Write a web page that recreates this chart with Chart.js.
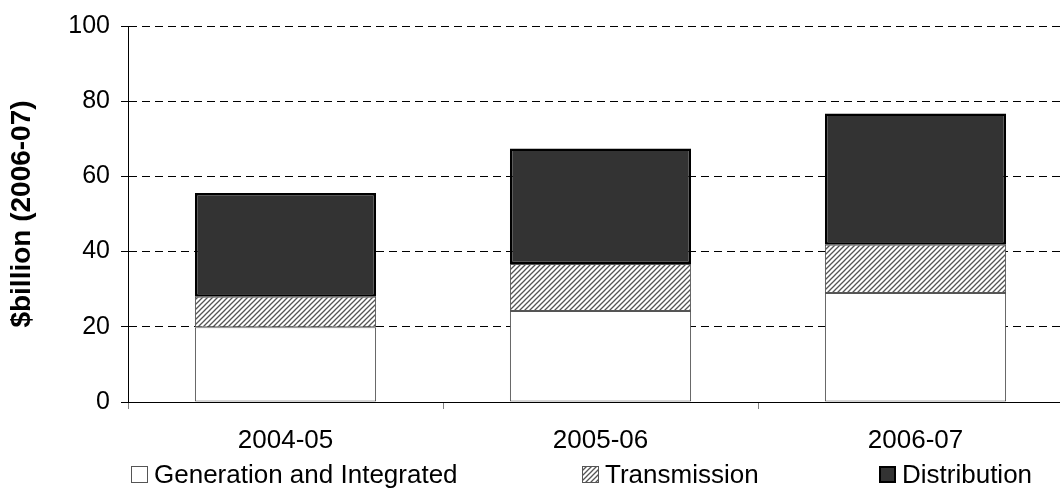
<!DOCTYPE html>
<html>
<head>
<meta charset="utf-8">
<script src="https://cdn.jsdelivr.net/npm/chart.js@4/dist/chart.umd.min.js"></script>
<style>
  html, body { margin: 0; padding: 0; background: #fff; overflow: hidden; }
  #wrap { position: relative; width: 1060px; height: 489px; overflow: hidden; }
  #chart { position: absolute; left: 0; top: 0; }
  .legend-item {
    position: absolute; top: 461px; display: flex; align-items: center;
    font: 26px "Liberation Sans", Arial, sans-serif; color: #000;
    white-space: nowrap; line-height: 26px;
  }
  .legend-item canvas { margin-right: 6px; display: block; }
</style>
</head>
<body>
<div id="wrap">
  <canvas id="chart" width="1073" height="489"></canvas>
  <div id="legend"></div>
</div>
<script>
// Capital expenditure by network segment, $billion (2006-07)
const categories = ['2004-05', '2005-06', '2006-07'];
const generation = [19.9, 24.2, 29.0];
const transmission = [8.1, 12.5, 12.8];
const distribution = [27.6, 30.7, 34.9];
const seriesNames = ['Generation and Integrated', 'Transmission', 'Distribution'];
const yTicks = [0, 20, 40, 60, 80, 100];
const yTitle = '$billion (2006-07)';

const FONT = '"Liberation Sans", Arial, sans-serif';

// Diagonal hatch used for the transmission segment
function makeHatch() {
  const n = 5;
  const c = document.createElement('canvas');
  c.width = n; c.height = n;
  const g = c.getContext('2d');
  g.fillStyle = '#fff';
  g.fillRect(0, 0, n, n);
  g.strokeStyle = '#555';
  g.lineWidth = 1.3;
  g.beginPath();
  g.moveTo(-1, n + 1); g.lineTo(n + 1, -1);
  g.moveTo(-1, 1); g.lineTo(1, -1);
  g.moveTo(n - 1, n + 1); g.lineTo(n + 1, n - 1);
  g.stroke();
  return c;
}
const hatchCanvas = makeHatch();
const ctx = document.getElementById('chart').getContext('2d');
const hatch = ctx.createPattern(hatchCanvas, 'repeat');

const styles = [
  { backgroundColor: '#ffffff', borderColor: '#555555', borderWidth: 1 },
  { backgroundColor: hatch, borderColor: '#555555', borderWidth: 1 },
  { backgroundColor: '#333333', borderColor: '#000000', borderWidth: 2.5 }
];
const seriesData = [generation, transmission, distribution];

const datasets = seriesNames.map((name, i) => Object.assign({
  label: name,
  data: seriesData[i],
  borderSkipped: false,
  barPercentage: 0.575,
  categoryPercentage: 1.0
}, styles[i]));

new Chart(ctx, {
  type: 'bar',
  data: { labels: categories, datasets },
  options: {
    responsive: false,
    animation: false,
    devicePixelRatio: 1,
    layout: { padding: { top: 24, left: 0, right: 0, bottom: 37 } },
    plugins: { legend: { display: false }, tooltip: { enabled: false } },
    scales: {
      x: {
        stacked: true,
        grid: { display: true, drawOnChartArea: false, drawTicks: true, tickLength: 7, tickColor: '#808080', offset: true },
        border: { display: true, color: '#000', width: 1 },
        ticks: { color: '#000', font: { family: FONT, size: 26 }, padding: 16, maxRotation: 0 },
        afterFit: s => { s.height = 50; }
      },
      y: {
        stacked: true,
        min: 0,
        max: 100,
        afterBuildTicks: s => { s.ticks = yTicks.map(v => ({ value: v })); },
        grid: { color: '#000', lineWidth: 1, tickLength: 7, tickColor: '#000', tickBorderDash: [] },
        border: { display: true, color: '#000', width: 1, dash: [8, 5] },
        ticks: { color: '#000', font: { family: FONT, size: 25 }, padding: 11 },
        title: { display: true, text: yTitle, color: '#000', font: { family: FONT, size: 28, weight: 'bold' }, padding: { top: 5, bottom: 0 } },
        afterFit: s => { s.width = 128; }
      }
    }
  }
});

// Legend row below the axis
const legendPos = [131, 582, 879];
const legend = document.getElementById('legend');
seriesNames.forEach((name, i) => {
  const item = document.createElement('div');
  item.className = 'legend-item';
  item.style.left = legendPos[i] + 'px';
  const sw = document.createElement('canvas');
  sw.width = 17; sw.height = 17;
  const g = sw.getContext('2d');
  const st = styles[i];
  g.fillStyle = i === 1 ? g.createPattern(hatchCanvas, 'repeat') : st.backgroundColor;
  g.fillRect(0, 0, 17, 17);
  g.strokeStyle = st.borderColor;
  g.lineWidth = Math.min(st.borderWidth, 2);
  const h = g.lineWidth / 2;
  g.strokeRect(h, h, 17 - g.lineWidth, 17 - g.lineWidth);
  const label = document.createElement('span');
  label.textContent = name;
  item.appendChild(sw);
  item.appendChild(label);
  legend.appendChild(item);
});
</script>
</body>
</html>
